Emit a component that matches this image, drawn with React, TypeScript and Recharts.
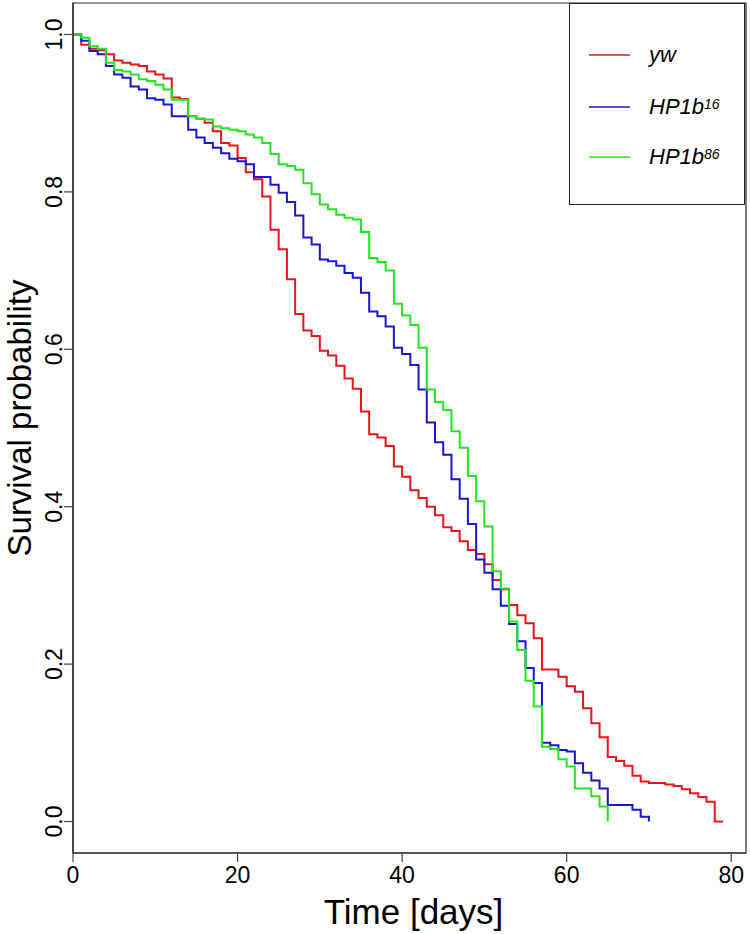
import React from 'react';
import { LineChart, Line, XAxis, YAxis, Legend, ReferenceArea, Label } from 'recharts';

// Time points (days)
const days = [
  0, 1, 2, 3, 4, 5, 6, 7, 8, 9, 10, 11, 12, 13, 14, 15, 16, 17, 18, 19,
  20, 21, 22, 23, 24, 25, 26, 27, 28, 29, 30, 31, 32, 33, 34, 35, 36, 37, 38, 39,
  40, 41, 42, 43, 44, 45, 46, 47, 48, 49, 50, 51, 52, 53, 54, 55, 56, 57, 58, 59,
  60, 61, 62, 63, 64, 65, 66, 67, 68, 69, 70, 71, 72, 73, 74, 75, 76, 77, 78, 79,
];

// Survival probability, yw (red)
const ywValues = [
  1.0, 0.987, 0.982, 0.98, 0.975, 0.967, 0.964, 0.962, 0.96, 0.953,
  0.949, 0.944, 0.92, 0.918, 0.896, 0.893, 0.888, 0.877, 0.862, 0.859,
  0.843, 0.825, 0.816, 0.794, 0.752, 0.727, 0.689, 0.645, 0.624, 0.617,
  0.598, 0.592, 0.579, 0.563, 0.55, 0.521, 0.492, 0.488, 0.477, 0.451,
  0.438, 0.421, 0.411, 0.4, 0.389, 0.374, 0.369, 0.356, 0.345, 0.34,
  0.327, 0.307, 0.295, 0.275, 0.262, 0.252, 0.233, 0.193, 0.193, 0.184,
  0.172, 0.165, 0.144, 0.125, 0.107, 0.082, 0.077, 0.071, 0.058, 0.051,
  0.049, 0.049, 0.047, 0.045, 0.041, 0.036, 0.031, 0.025, 0.0, 0.0,
];

// Survival probability, HP1b^16 (blue)
const hp1b16Values = [
  1.0, 0.992, 0.979, 0.975, 0.96, 0.949, 0.945, 0.934, 0.93, 0.919,
  0.917, 0.911, 0.896, 0.896, 0.879, 0.869, 0.862, 0.856, 0.849, 0.842,
  0.839, 0.835, 0.819, 0.819, 0.809, 0.799, 0.787, 0.77, 0.742, 0.733,
  0.714, 0.712, 0.706, 0.697, 0.691, 0.672, 0.648, 0.642, 0.629, 0.602,
  0.594, 0.58, 0.549, 0.507, 0.482, 0.466, 0.435, 0.41, 0.378, 0.333,
  0.316, 0.295, 0.274, 0.251, 0.229, 0.195, 0.176, 0.1, 0.097, 0.091,
  0.089, 0.074, 0.062, 0.052, 0.042, 0.021, 0.021, 0.021, 0.015, 0.006,
  0.0,
];

// Survival probability, HP1b^86 (green)
const hp1b86Values = [
  1.0, 0.996, 0.985, 0.982, 0.964, 0.955, 0.953, 0.949, 0.943, 0.941,
  0.936, 0.93, 0.917, 0.917, 0.896, 0.893, 0.892, 0.883, 0.881, 0.879,
  0.877, 0.873, 0.869, 0.862, 0.848, 0.835, 0.833, 0.828, 0.811, 0.797,
  0.784, 0.778, 0.771, 0.767, 0.765, 0.749, 0.716, 0.711, 0.7, 0.658,
  0.643, 0.631, 0.602, 0.549, 0.533, 0.523, 0.496, 0.475, 0.439, 0.407,
  0.375, 0.318, 0.296, 0.254, 0.218, 0.179, 0.146, 0.095, 0.092, 0.079,
  0.07, 0.042, 0.042, 0.032, 0.019, 0.0,
];

const xTicks = [0, 20, 40, 60, 80];
const yTicks = [0, 0.2, 0.4, 0.6, 0.8, 1.0];

const seriesKeys = ['yw', 'hp1b16', 'hp1b86'];
const seriesLabels = ['yw', 'HP1b', 'HP1b'];
const seriesSup = ['', '16', '86'];
const seriesColors = ['#e8141a', '#1616d4', '#22e622'];

const data = days.map((d, i) => ({
  day: d,
  yw: ywValues[i] ?? null,
  hp1b16: hp1b16Values[i] ?? null,
  hp1b86: hp1b86Values[i] ?? null,
}));

const FONT = '"Liberation Sans", Arial, Helvetica, sans-serif';
const X_DOMAIN: [number, number] = [0, 81.8];
const Y_DOMAIN: [number, number] = [-0.04, 1.04];

const YTick = (props: any) => {
  const { x, y, payload } = props;
  return (
    <text
      x={x}
      y={y}
      transform={`rotate(-90 ${x} ${y})`}
      textAnchor="middle"
      fontSize={23}
      fill="#000"
      fontFamily={FONT}
    >
      {Number(payload.value).toFixed(1)}
    </text>
  );
};

const XTitle = (props: any) => {
  const vb = props.viewBox || { x: 73, y: 853, width: 672, height: 81 };
  return (
    <text
      x={vb.x + vb.width / 2 + 4}
      y={vb.y + 71}
      textAnchor="middle"
      fontSize={35}
      fill="#000"
      fontFamily={FONT}
    >
      Time [days]
    </text>
  );
};

const YTitle = (props: any) => {
  const vb = props.viewBox || { x: 0, y: 3, width: 73, height: 850 };
  const cx = 31;
  const cy = vb.y + vb.height / 2 - 10;
  return (
    <text
      x={cx}
      y={cy}
      transform={`rotate(-90 ${cx} ${cy})`}
      textAnchor="middle"
      fontSize={33}
      fill="#000"
      fontFamily={FONT}
    >
      Survival probability
    </text>
  );
};

const LegendBox = () => {
  const rows = [51, 103, 153];
  return (
    <div
      style={{
        position: 'relative',
        width: 176,
        height: 202,
        border: '1px solid #222',
        boxSizing: 'border-box',
        background: '#fff',
        fontFamily: FONT,
      }}
    >
      {seriesKeys.map((k, i) => (
        <div
          key={k}
          style={{
            position: 'absolute',
            left: 0,
            top: rows[i] - 16,
            height: 32,
            width: 176,
            display: 'flex',
            alignItems: 'center',
          }}
        >
          <svg width={79} height={32} style={{ display: 'block' }}>
            <line x1={19} x2={60} y1={16} y2={16} stroke={seriesColors[i]} strokeWidth={1.4} />
          </svg>
          <span style={{ fontStyle: 'italic', fontSize: 22, color: '#000', lineHeight: '32px' }}>
            {seriesLabels[i]}
            {seriesSup[i] ? (
              <sup style={{ fontSize: 14, verticalAlign: 'top', position: 'relative', top: -3 }}>{seriesSup[i]}</sup>
            ) : null}
          </span>
        </div>
      ))}
    </div>
  );
};

export default function App() {
  return (
    <div style={{ position: 'absolute', left: 0, top: 0, width: 750, height: 934, background: '#fff', fontFamily: FONT }}>
      <LineChart
        width={750}
        height={934}
        data={data}
        margin={{ top: 3, right: 4, left: 0, bottom: 0 }}
      >
        <XAxis
          dataKey="day"
          type="number"
          domain={X_DOMAIN}
          ticks={xTicks}
          allowDataOverflow
          height={81}
          tickSize={9}
          tickMargin={5}
          tick={{ fontSize: 23, fill: '#000', fontFamily: FONT }}
          axisLine={{ stroke: '#444', strokeWidth: 1.5 }}
          tickLine={{ stroke: '#444', strokeWidth: 1.2 }}
        >
          <Label content={<XTitle />} />
        </XAxis>
        <YAxis
          type="number"
          domain={Y_DOMAIN}
          ticks={yTicks}
          allowDataOverflow
          width={73}
          tickSize={9}
          tickMargin={2}
          tick={<YTick />}
          axisLine={{ stroke: '#222', strokeWidth: 1.2 }}
          tickLine={{ stroke: '#444', strokeWidth: 1.2 }}
        >
          <Label content={<YTitle />} />
        </YAxis>
        <ReferenceArea
          x1={X_DOMAIN[0]}
          x2={X_DOMAIN[1]}
          y1={Y_DOMAIN[0]}
          y2={Y_DOMAIN[1]}
          fill="none"
          stroke="#222"
          strokeWidth={1.2}
          ifOverflow="visible"
        />
        {seriesKeys.map((k, i) => (
          <Line
            key={k}
            type="stepAfter"
            dataKey={k}
            name={seriesLabels[i] + seriesSup[i]}
            stroke={seriesColors[i]}
            strokeWidth={2}
            dot={false}
            activeDot={false}
            connectNulls={false}
            isAnimationActive={false}
          />
        ))}
        <Legend
          layout="vertical"
          align="center"
          verticalAlign="middle"
          content={<LegendBox />}
          wrapperStyle={{ position: 'absolute', left: 569, top: 3, width: 176, height: 202 }}
        />
      </LineChart>
    </div>
  );
}
